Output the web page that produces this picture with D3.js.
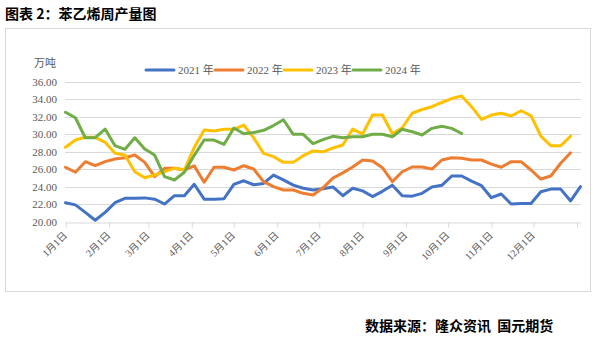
<!DOCTYPE html>
<html><head><meta charset="utf-8">
<script src="https://cdn.jsdelivr.net/npm/d3@7"></script>
<style>body{margin:0;background:#fff}svg{display:block}</style>
</head><body><svg id="c" width="609" height="337"></svg>
<script>
const seriesNames = ["2021年","2022年","2023年","2024年"];
const seriesColors = ["#4472C4","#ED7D31","#FFC000","#70AD47"];
const yTicks = [20,22,24,26,28,30,32,34,36];
const monthLabels = ["1月1日","2月1日","3月1日","4月1日","5月1日","6月1日","7月1日","8月1日","9月1日","10月1日","11月1日","12月1日"];
const v2021 = [22.2,21.95,21.1,20.2,21.1,22.2,22.7,22.7,22.75,22.6,22.05,23.0,23.0,24.3,22.6,22.6,22.65,24.3,24.7,24.25,24.4,25.35,24.8,24.2,23.85,23.65,23.8,24.0,23.0,23.85,23.55,22.9,23.5,24.2,23.0,22.95,23.27,24.0,24.18,25.25,25.25,24.67,24.14,22.77,23.19,22.05,22.1,22.1,23.45,23.75,23.75,22.4,24.03];
const v2022 = [26.24,25.67,26.88,26.42,26.88,27.18,27.33,27.64,26.8,25.17,26.12,26.12,25.93,26.4,24.53,26.24,26.24,25.93,26.42,26.04,24.6,24.03,23.65,23.65,23.27,23.08,23.9,25.0,25.6,26.27,27.07,26.96,26.2,24.6,25.73,26.27,26.27,26.04,27.07,27.33,27.26,27.07,27.07,26.6,26.24,26.88,26.88,25.93,24.9,25.25,26.7,27.9];
const v2023 = [28.52,29.35,29.66,29.66,29.09,27.83,27.64,25.74,25.05,25.36,25.74,26.12,25.93,28.5,30.49,30.38,30.57,30.57,31.06,29.6,27.83,27.45,26.8,26.8,27.56,28.1,28.0,28.44,28.78,30.6,30.03,32.2,32.2,30.06,30.75,32.4,32.83,33.15,33.63,34.08,34.37,33.15,31.7,32.2,32.4,32.09,32.69,32.12,29.8,28.7,28.7,29.8];
const v2024 = [32.51,31.89,29.61,29.61,30.6,28.7,28.29,29.61,28.32,27.64,25.17,24.79,25.67,27.6,29.35,29.35,28.84,30.72,30.07,30.2,30.46,31.0,31.66,30.0,30.0,28.93,29.4,29.77,29.61,29.73,29.73,30.01,30.0,29.73,30.57,30.3,29.92,30.68,30.91,30.68,30.09];
const allSeries = [v2021,v2022,v2023,v2024];

const svg = d3.select("#c");
const serif = "'Times New Roman','Liberation Serif','Noto Sans CJK SC',serif";

// frame
svg.append("rect").attr("x",5.5).attr("y",28.5).attr("width",585).attr("height",263)
  .attr("fill","none").attr("stroke","#d9d9d9").attr("stroke-width",1);

// title
svg.append("text").attr("x",5).attr("y",19).text("图表 2：苯乙烯周产量图")
  .attr("font-family","'Noto Sans CJK SC',sans-serif").attr("font-weight","bold").attr("font-size",14).attr("fill","#000");

const y = d3.scaleLinear().domain([20,36]).range([222,81.7]);
const x = d3.scaleLinear().domain([0,52]).range([65.5,580.5]);
const xt = d3.scaleTime().domain([new Date(2021,0,1), new Date(2022,0,1)]).range([65.7,577]);

// gridlines
svg.append("g").selectAll("line").data(yTicks.slice(1)).join("line")
  .attr("x1",65).attr("x2",581).attr("y1",d=>Math.round(y(d))+0.5).attr("y2",d=>Math.round(y(d))+0.5)
  .attr("stroke","#d9d9d9").attr("stroke-width",1);

// y labels
svg.append("g").selectAll("text").data(yTicks).join("text")
  .attr("x",57).attr("y",d=>y(d)+4).attr("text-anchor","end")
  .attr("font-family",serif).attr("font-size",11).attr("fill","#595959")
  .text(d=>d.toFixed(2));
svg.append("text").attr("x",34).attr("y",67).text("万吨")
  .attr("font-family","'Noto Sans CJK SC',serif").attr("font-size",11).attr("fill","#595959");

// x axis
const months = d3.timeMonth.range(new Date(2021,0,1), new Date(2022,0,2));
const xAxis = d3.axisBottom(xt).tickValues(months).tickSize(5).tickFormat("");
const gx = svg.append("g").attr("transform","translate(0,222.5)").call(xAxis);
gx.select(".domain").attr("d","M65,0.5H581").attr("stroke","#d9d9d9");
gx.selectAll(".tick line").attr("stroke","#d9d9d9");
svg.append("g").selectAll("text").data(monthLabels).join("text")
  .attr("transform",(d,i)=>`translate(${xt(months[i])+2},${236}) rotate(-45)`)
  .attr("text-anchor","end")
  .attr("font-family",serif).attr("font-size",10).attr("fill","#595959")
  .text(d=>d);

// lines
const line = d3.line().x((d,i)=>x(i)).y(d=>y(d));
svg.append("g").selectAll("path").data(allSeries).join("path")
  .attr("d",line).attr("fill","none")
  .attr("stroke",(d,i)=>seriesColors[i]).attr("stroke-width",3)
  .attr("stroke-linejoin","round").attr("stroke-linecap","round");

// legend
const legX = [146,215,284,353];
const lg = svg.append("g").selectAll("g").data(seriesNames).join("g")
  .attr("transform",(d,i)=>`translate(${legX[i]},70)`);
lg.append("line").attr("x1",0).attr("x2",28).attr("y1",0).attr("y2",0)
  .attr("stroke",(d,i)=>seriesColors[i]).attr("stroke-width",3).attr("stroke-linecap","round");
lg.append("text").attr("x",32).attr("y",4).text(d=>d.replace("年"," 年"))
  .attr("font-family",serif).attr("font-size",11).attr("fill","#595959");

// footer
svg.append("text").attr("x",365).attr("y",331).text("数据来源：隆众资讯  国元期货")
  .attr("font-family","'Noto Sans CJK SC',sans-serif").attr("font-weight","bold").attr("font-size",14).attr("fill","#000")
  .attr("xml:space","preserve").style("white-space","pre");
</script></body></html>
